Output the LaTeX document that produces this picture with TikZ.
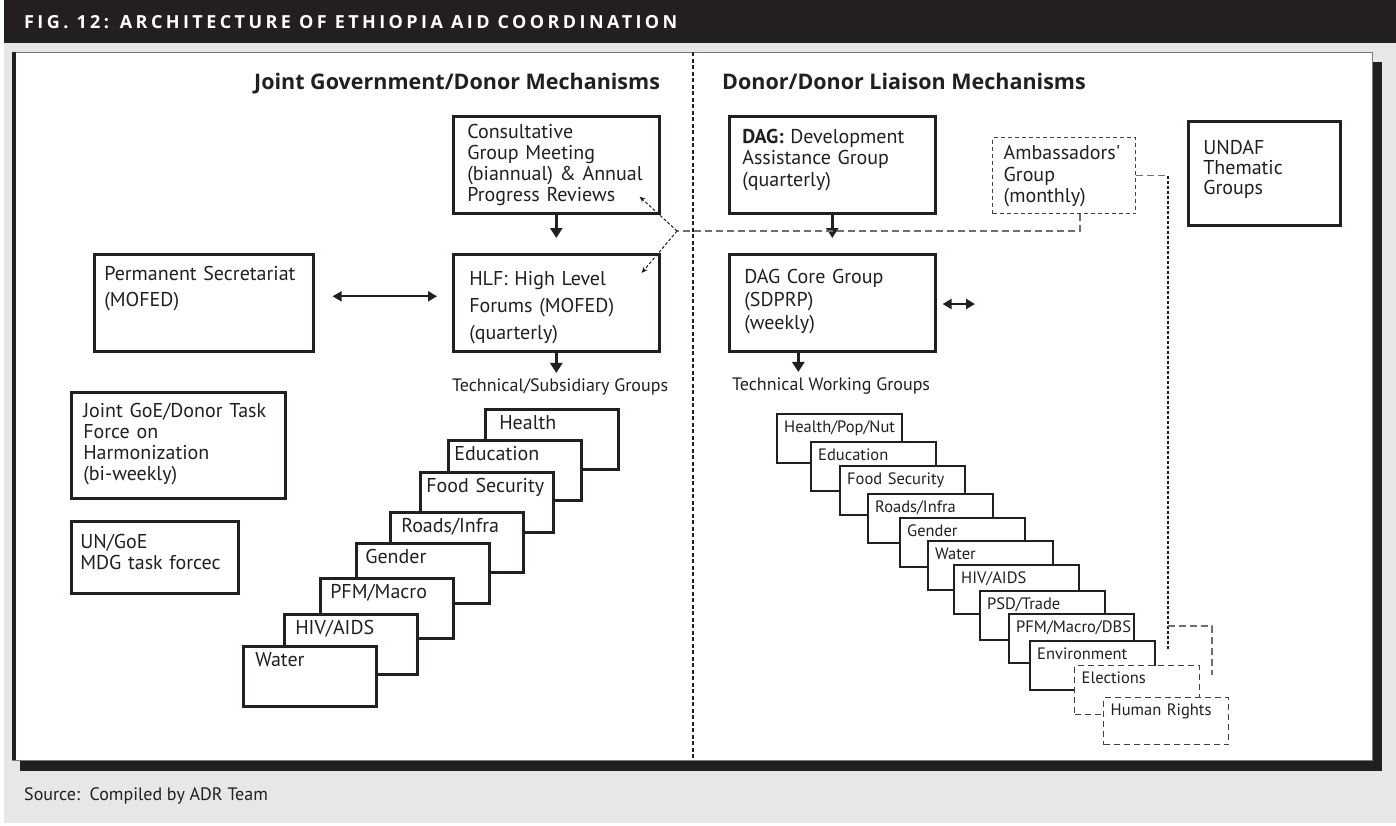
\documentclass[tikz,border=0pt]{standalone}
\usepackage{fontspec}
\setmainfont{PT Sans}
\setsansfont{PT Sans}
\newfontfamily\headfont{Open Sans}
\newfontfamily\figfont[LetterSpace=19]{Open Sans}
\usetikzlibrary{arrows.meta, positioning, calc}
\definecolor{ink}{HTML}{231F20}
\definecolor{panelgray}{HTML}{E6E7E8}
\tikzset{every node/.style={font=\sffamily, text=ink}}
\tikzset{
  box/.style={draw=ink, line width=2.6pt, fill=white, anchor=north west, align=left,
    inner sep=0pt, text height=14pt, font=\fontsize{20pt}{21pt}\selectfont},
  lstack/.style={box, text width=121pt, inner xsep=6pt, inner ysep=6pt, text depth=34pt,
    font=\fontsize{20pt}{22pt}\selectfont},
  rstack/.style={box, line width=2.4pt, text width=111pt, inner xsep=7pt, inner ysep=6pt,
    text height=12pt, text depth=25pt, font=\fontsize{16.5pt}{19pt}\selectfont},
  rdash/.style={rstack, draw=ink!85, line width=1.4pt, dash pattern=on 6pt off 4pt},
  lbl/.style={anchor=base west, inner sep=2pt, font=\fontsize{18pt}{21pt}\selectfont},
  heading/.style={anchor=base west, inner sep=0pt, font=\headfont\bfseries\fontsize{21.5pt}{25pt}\selectfont},
  flow/.style={ink, line width=3pt, -{Triangle[length=10pt,width=12pt]}},
  twoway/.style={ink, line width=2pt, {Triangle[length=9pt,width=10pt]}-{Triangle[length=9pt,width=10pt]}},
  liaison/.style={ink, line width=1pt, dash pattern=on 3pt off 2pt, -{Stealth[length=6pt,width=5pt]}},
  gline/.style={draw=ink!65, line width=1.3pt, dash pattern=on 7pt off 4pt},
  dotline/.style={draw=ink, line width=1.3pt, dash pattern=on 3pt off 2pt},
}

\begin{document}
\begin{tikzpicture}[x=1pt, y=-1pt]
  \useasboundingbox (0,0) rectangle (1396,825);
  \fill[white] (0,0) rectangle (1396,825);
  \fill[panelgray] (4,43) rectangle (1396,823);
  \fill[ink] (4,0) rectangle (1396,43);
  \node[anchor=base west, inner sep=0pt, text=white, font=\figfont\bfseries\fontsize{18pt}{20pt}\selectfont] (title) at (24,28) {FIG. 12: ARCHITECTURE OF ETHIOPIA AID COORDINATION};

  % panel with shadow
  \fill[ink] (20,62) rectangle (1382,771);
  \filldraw[fill=white, draw=ink!60, line width=1pt] (12,52) rectangle (1372,760);
  \draw[ink, line width=4pt] (14,52) -- (14,760);
  \draw[ink, line width=1.3pt, dash pattern=on 4pt off 2.5pt] (693,52) -- (693,760);

  \node[heading] (jgd) at (254,89) {Joint Government/Donor Mechanisms};
  \node[heading] (ddl) at (722,89) {Donor/Donor Liaison Mechanisms};

  % joint government/donor side
  \node[box, text width=178pt, text depth=67pt, inner xsep=14pt, inner ysep=8pt] (cg) at (452,115)
    {Consultative\\Group Meeting\\(biannual) \& Annual\\Progress Reviews};
  \node[box, text width=174pt, text depth=49pt, inner xsep=16pt, inner ysep=17pt,
    font=\fontsize{20pt}{27pt}\selectfont] (hlf) at (452,253)
    {HLF: High Level\\Forums (MOFED)\\(quarterly)};
  \node[box, text width=199pt, text depth=59pt, inner xsep=10pt, inner ysep=12pt,
    font=\fontsize{20pt}{26pt}\selectfont] (ps) at (93,253)
    {Permanent Secretariat\\(MOFED)};
  \node[box, text width=190pt, text depth=70pt, inner xsep=12pt, inner ysep=11pt] (tf) at (70,391)
    {Joint GoE/Donor Task\\Force on\\Harmonization\\(bi-weekly)};
  \node[box, text width=149pt, text depth=32pt, inner xsep=9pt, inner ysep=13pt] (mdg) at (70,520)
    {UN/GoE\\MDG task forcec};
  \node[lbl] (tsg) at (450,391) {Technical/Subsidiary Groups};

  \draw[flow, shorten >=15pt] (cg.south) -- (hlf.north);
  \draw[flow, shorten >=3pt] (hlf.south) -- (hlf.south |- tsg.north);
  \draw[twoway, shorten <=18pt, shorten >=15pt] ([yshift=6.5pt]ps.east) -- ([yshift=6.5pt]hlf.west);

  \foreach \nm/\x/\y/\txt in {health/484/408/\hspace{8pt}Health, edu/447/439/Education,
      food/419/471/Food Security, roads/389/511/{\hspace{5pt}Roads/Infra}, gender/355/542/\hspace{3pt}Gender,
      pfm/319/577/{\hspace{4pt}PFM/Macro}, hiv/283/613/{\hspace{5pt}HIV/AIDS}, water/242/645/\hspace{6pt}Water}
    \node[lstack] (l-\nm) at (\x,\y) {\txt};

  % donor/donor side
  \node[box, text width=180pt, text depth=57pt, inner xsep=13pt, inner ysep=13pt,
    font=\fontsize{20pt}{21.5pt}\selectfont] (dag) at (728,115)
    {{\bfseries DAG:} Development\\Assistance Group\\(quarterly)};
  \node[box, text width=176pt, text depth=53pt, inner xsep=15pt, inner ysep=15pt,
    font=\fontsize{20pt}{23pt}\selectfont] (core) at (728,253)
    {DAG Core Group\\(SDPRP)\\(weekly)};
  \node[box, draw=ink!85, line width=1.4pt, dash pattern=on 4pt off 3pt, text width=121pt,
    text depth=46pt, inner xsep=11pt, inner ysep=8pt, font=\fontsize{20pt}{21.5pt}\selectfont] (amb) at (992,137)
    {Ambassadors\textquotesingle\\Group\\(monthly)};
  \node[box, text width=122pt, text depth=52pt, inner xsep=15pt, inner ysep=19pt,
    font=\fontsize{20pt}{20pt}\selectfont] (undaf) at (1187,120)
    {UNDAF\\Thematic\\Groups};
  \node[lbl] (twg) at (730,390) {Technical Working Groups};
  \coordinate (coreside) at (975,304);

  \draw[flow, shorten >=15pt] (dag.south) -- (core.north);
  \draw[flow, shorten >=3pt] ([xshift=-34pt]core.south) -- ([xshift=-34pt]core.south |- twg.north);
  \draw[twoway, shorten <=6pt] (core.east |- coreside) -- (coreside);

  \coordinate (hub) at (677,231);
  \draw[gline] ($(amb.south west)!0.61!(amb.south east)$) |- (hub);
  \draw[liaison] (hub) -- ([xshift=-21pt,yshift=18pt]cg.south east);
  \draw[liaison] (hub) -- ([xshift=-19pt,yshift=-20pt]hlf.north east);

  \coordinate (ambdrop) at (1168,650);
  \coordinate (ambfork) at (1168,626);
  \coordinate (ambend) at (1212,675);
  \draw[gline] (amb.east) -- (amb.east -| ambdrop);
  \draw[dotline] (amb.east -| ambdrop) -- (ambdrop);
  \draw[gline] (ambfork) -| (ambend);

  \foreach \nm/\x/\y/\txt in {hpn/776/413/{Health/Pop/Nut}, edu/810/441/Education,
      food/839/465/Food Security, roads/867/493/{Roads/Infra}, gender/899/517/Gender,
      water/927/540/Water, hiv/953/564/{HIV/AIDS}, psd/979/590/{PSD/Trade},
      pfm/1008/613/{PFM/Macro/DBS}, env/1029/640/Environment}
    \node[rstack] (r-\nm) at (\x,\y) {\txt};
  \node[rdash] (r-elect) at (1074,665) {Elections};
  \node[rdash, text depth=23pt] (r-rights) at (1103,697) {Human Rights};

  \node[lbl, inner sep=0pt] (src) at (24,800) {Source:\ \ Compiled by ADR Team};
\end{tikzpicture}
\end{document}
